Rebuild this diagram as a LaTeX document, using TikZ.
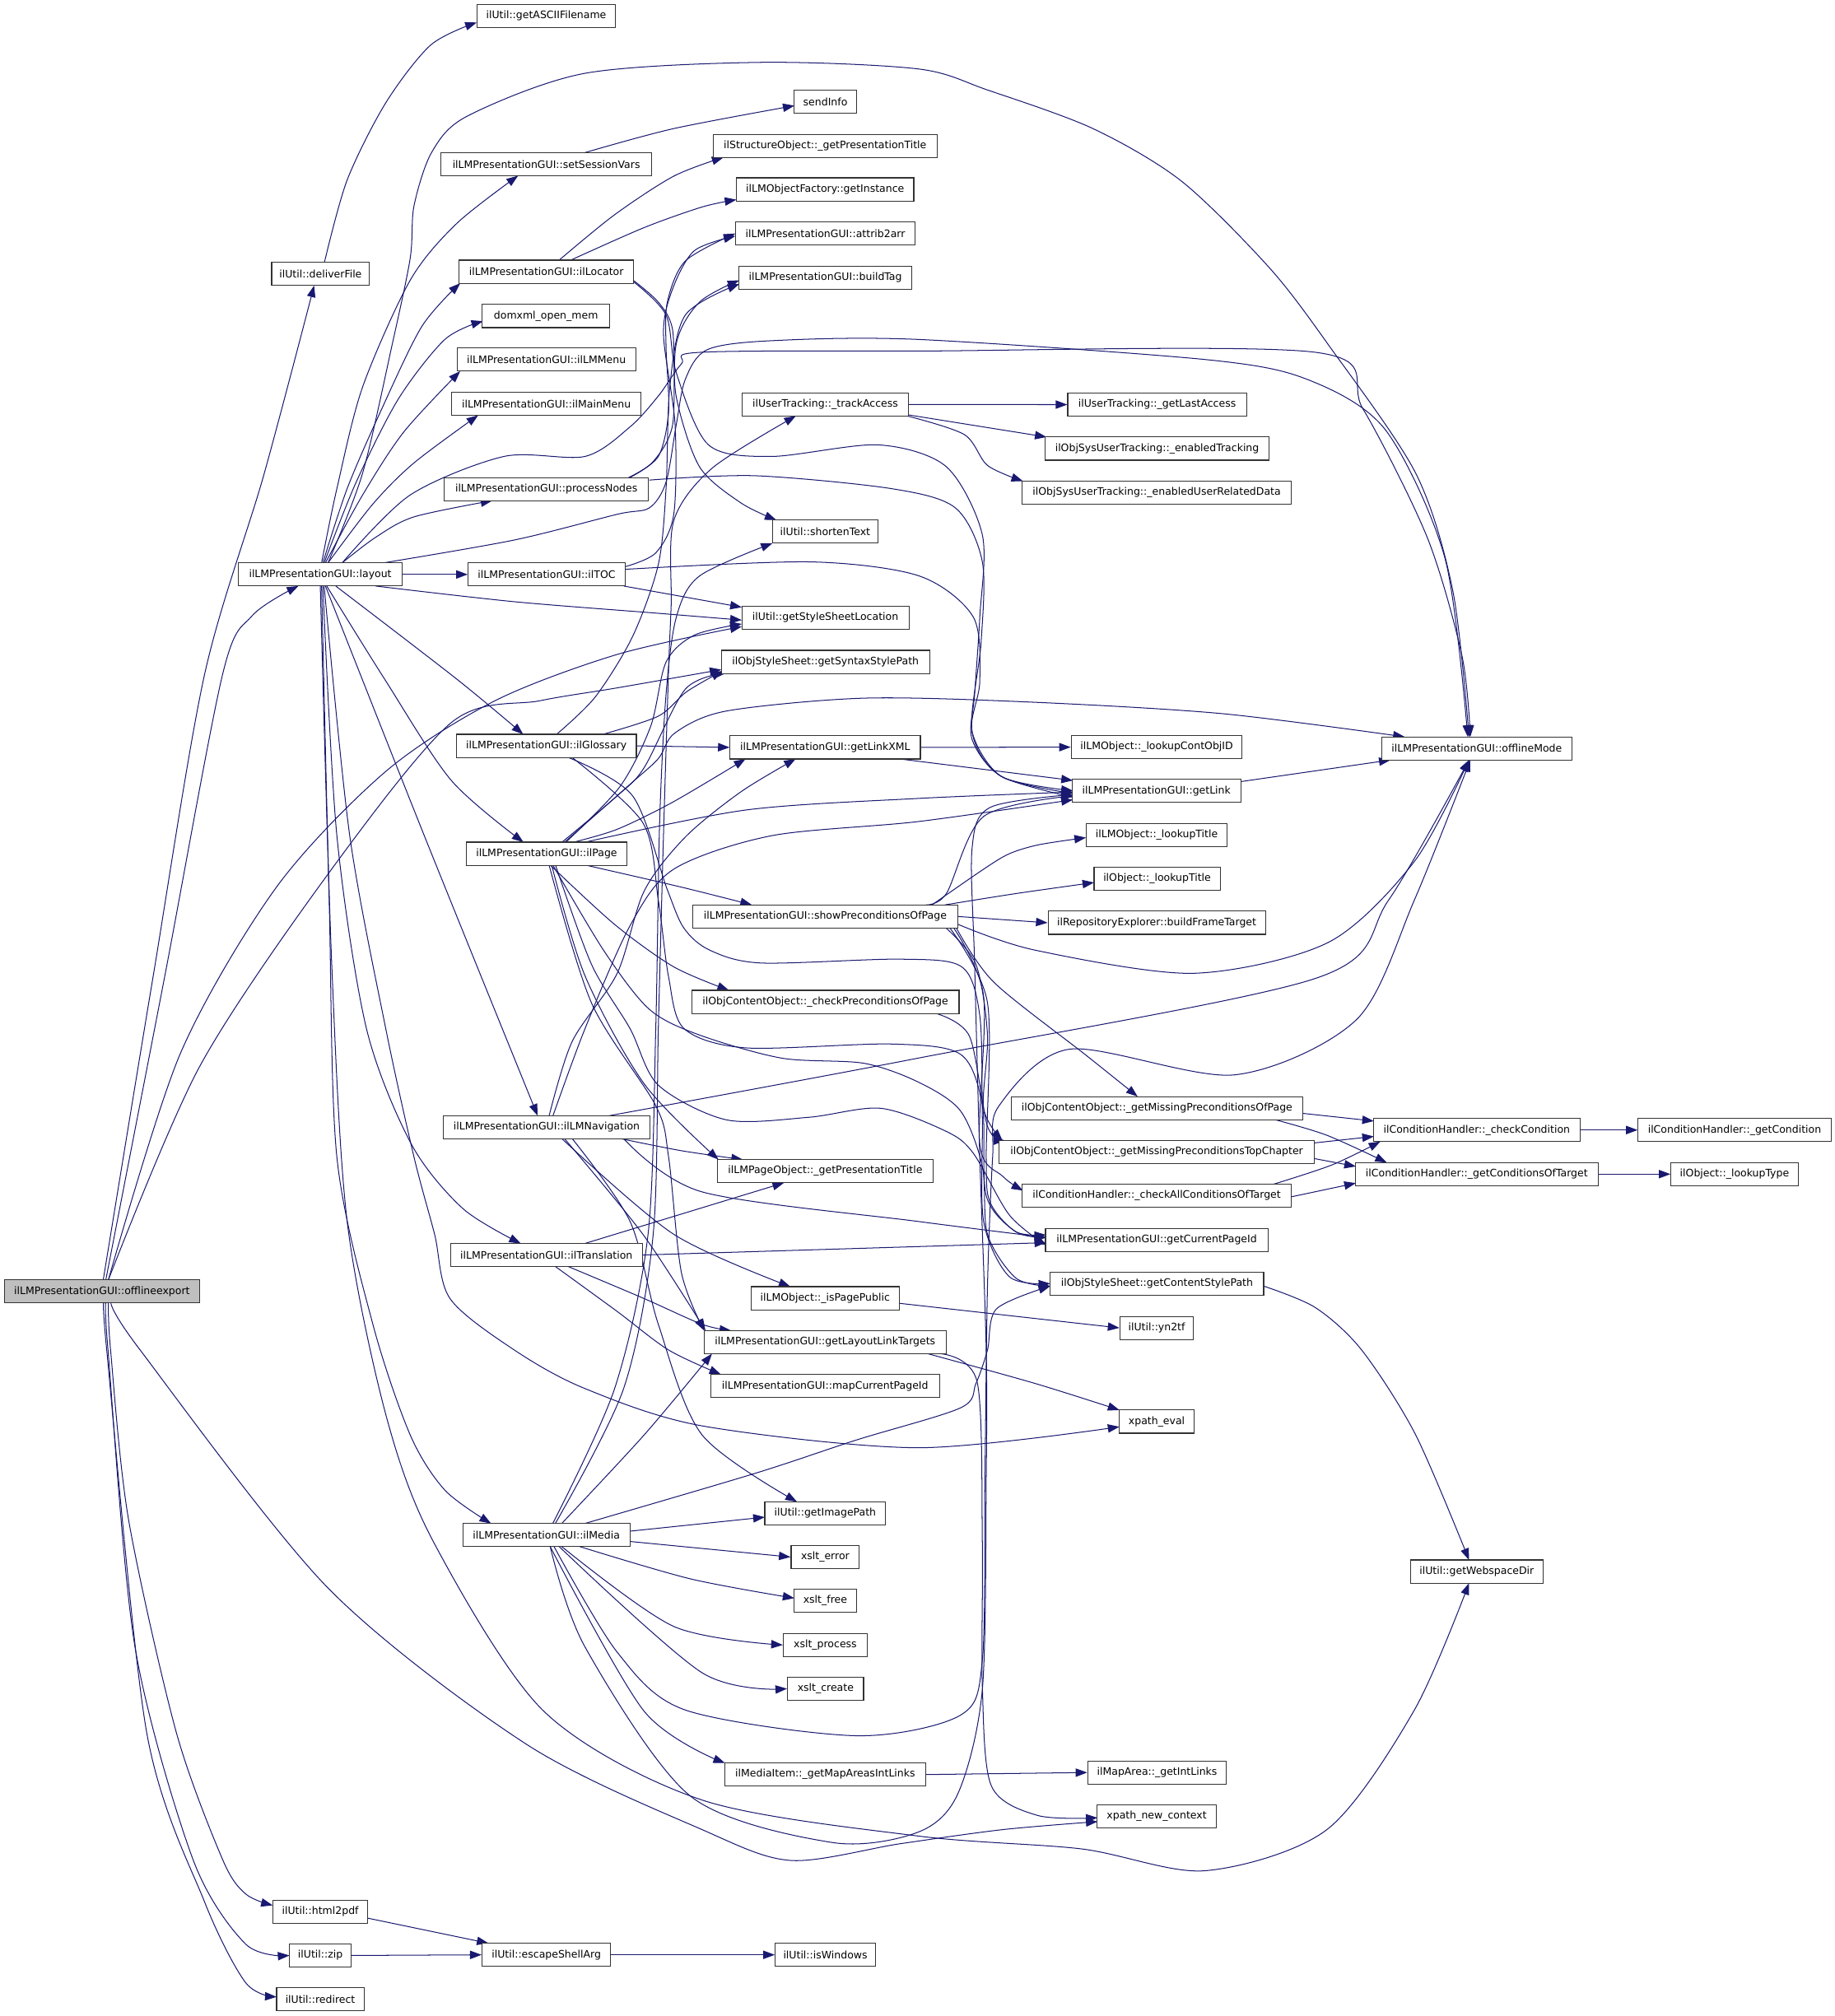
\documentclass[tikz,border=0pt]{standalone}
\usepackage{fontspec}
\setmainfont{DejaVu Sans}
\usetikzlibrary{arrows.meta,calc}
\definecolor{edgeblue}{HTML}{191970}
\pgfdeclarelayer{bg}
\pgfdeclarelayer{paper}
\pgfsetlayers{paper,bg,main}
\begin{document}
\begin{tikzpicture}[x=1pt,y=-1pt,
  box/.style={draw=black!80, line width=0.7pt, fill=white, minimum height=18pt, inner sep=0pt, font=\fontsize{8}{9.6}\selectfont},
  e/.style={draw=edgeblue, line width=0.65pt, line join=round, -{Triangle[length=9pt,width=6.5pt]}}]
\begin{pgfonlayer}{paper}
\fill[white] (0,0) rectangle (1427,1568);
\end{pgfonlayer}
\useasboundingbox (0,0) rectangle (1427,1568);
% nodes
\node[box,minimum width=152pt,fill=black!25] (O) at (79.3,1004.4) {ilLMPresentationGUI::offlineexport};
\node[box,minimum width=108pt] (gaf) at (424.8,12.5) {ilUtil::getASCIIFilename};
\node[box,minimum width=49pt] (send) at (641.9,79.2) {sendInfo};
\node[box,minimum width=164pt] (ssv) at (424.9,127.7) {ilLMPresentationGUI::setSessionVars};
\node[box,minimum width=174pt] (sopt) at (641.7,113.4) {ilStructureObject::\_getPresentationTitle};
\node[box,minimum width=138pt] (gi) at (641.7,147.3) {ilLMObjectFactory::getInstance};
\node[box,minimum width=140pt] (a2a) at (641.9,181.6) {ilLMPresentationGUI::attrib2arr};
\node[box,minimum width=134pt] (bt) at (641.9,216) {ilLMPresentationGUI::buildTag};
\node[box,minimum width=76pt] (df) at (249.3,213.1) {ilUtil::deliverFile};
\node[box,minimum width=136pt] (loc) at (424.9,211.3) {ilLMPresentationGUI::ilLocator};
\node[box,minimum width=99pt] (dom) at (424.6,245.8) {domxml\_open\_mem};
\node[box,minimum width=139pt] (lmm) at (424.9,279.7) {ilLMPresentationGUI::ilLMMenu};
\node[box,minimum width=147pt] (mm) at (424.9,314) {ilLMPresentationGUI::ilMainMenu};
\node[box,minimum width=129pt] (ta) at (641.9,314.6) {ilUserTracking::\_trackAccess};
\node[box,minimum width=159pt] (pn) at (424.9,380.4) {ilLMPresentationGUI::processNodes};
\node[box,minimum width=82pt] (st) at (641.8,413.5) {ilUtil::shortenText};
\node[box,minimum width=127pt] (lay) at (249.1,446.8) {ilLMPresentationGUI::layout};
\node[box,minimum width=122pt] (toc) at (425.1,446.8) {ilLMPresentationGUI::ilTOC};
\node[box,minimum width=130pt] (gssl) at (641.9,480.3) {ilUtil::getStyleSheetLocation};
\node[box,minimum width=162pt] (gsyn) at (642,514.8) {ilObjStyleSheet::getSyntaxStylePath};
\node[box,minimum width=139pt] (gla) at (899.9,314.7) {ilUserTracking::\_getLastAccess};
\node[box,minimum width=174pt] (et) at (899.9,348.9) {ilObjSysUserTracking::\_enabledTracking};
\node[box,minimum width=209pt] (eurd) at (899.6,383.2) {ilObjSysUserTracking::\_enabledUserRelatedData};
\node[box,minimum width=140pt] (glo) at (424.9,580.1) {ilLMPresentationGUI::ilGlossary};
\node[box,minimum width=148pt] (glx) at (641.8,581.3) {ilLMPresentationGUI::getLinkXML};
\node[box,minimum width=125pt] (pg) at (425.1,664) {ilLMPresentationGUI::ilPage};
\node[box,minimum width=206pt] (spp) at (641.8,712.8) {ilLMPresentationGUI::showPreconditionsOfPage};
\node[box,minimum width=208pt] (cpp) at (641.9,779.2) {ilObjContentObject::\_checkPreconditionsOfPage};
\node[box,minimum width=161pt] (nav) at (425.1,876.7) {ilLMPresentationGUI::ilLMNavigation};
\node[box,minimum width=168pt] (lpt) at (641.8,910.9) {ilLMPageObject::\_getPresentationTitle};
\node[box,minimum width=149pt] (tr) at (425,976.1) {ilLMPresentationGUI::ilTranslation};
\node[box,minimum width=115pt] (ipp) at (641.7,1009.7) {ilLMObject::\_isPagePublic};
\node[box,minimum width=188pt] (gllt) at (641.7,1043.9) {ilLMPresentationGUI::getLayoutLinkTargets};
\node[box,minimum width=178pt] (mcp) at (641.7,1078) {ilLMPresentationGUI::mapCurrentPageId};
\node[box,minimum width=133pt] (lcoid) at (899.6,581.1) {ilLMObject::\_lookupContObjID};
\node[box,minimum width=148pt] (om) at (1148.5,582.1) {ilLMPresentationGUI::offlineMode};
\node[box,minimum width=131pt] (gl) at (899.4,615) {ilLMPresentationGUI::getLink};
\node[box,minimum width=109pt] (lmlt) at (899.6,649.5) {ilLMObject::\_lookupTitle};
\node[box,minimum width=98pt] (olt) at (899.9,683.4) {ilObject::\_lookupTitle};
\node[box,minimum width=169pt] (bft) at (899.6,717.7) {ilRepositoryExplorer::buildFrameTarget};
\node[box,minimum width=227pt] (gmpp) at (899.8,861.9) {ilObjContentObject::\_getMissingPreconditionsOfPage};
\node[box,minimum width=161pt] (cc) at (1148.5,878.9) {ilConditionHandler::\_checkCondition};
\node[box,minimum width=150pt] (gc) at (1349,878.9) {ilConditionHandler::\_getCondition};
\node[box,minimum width=245pt] (gmtc) at (899.6,896) {ilObjContentObject::\_getMissingPreconditionsTopChapter};
\node[box,minimum width=189pt] (gcot) at (1148.5,913.2) {ilConditionHandler::\_getConditionsOfTarget};
\node[box,minimum width=99pt] (lty) at (1349,913.2) {ilObject::\_lookupType};
\node[box,minimum width=209pt] (cacot) at (899.6,930) {ilConditionHandler::\_checkAllConditionsOfTarget};
\node[box,minimum width=173pt] (gcpi) at (899.6,964.5) {ilLMPresentationGUI::getCurrentPageId};
\node[box,minimum width=166pt] (gcsp) at (899.8,998.3) {ilObjStyleSheet::getContentStylePath};
\node[box,minimum width=57pt] (yn) at (899.6,1032.8) {ilUtil::yn2tf};
\node[box,minimum width=94pt] (gip) at (641.8,1177) {ilUtil::getImagePath};
\node[box,minimum width=130pt] (med) at (424.9,1193.9) {ilLMPresentationGUI::ilMedia};
\node[box,minimum width=53pt] (xe) at (641.8,1211) {xslt\_error};
\node[box,minimum width=49pt] (xf) at (641.8,1245) {xslt\_free};
\node[box,minimum width=65pt] (xp) at (641.8,1279.4) {xslt\_process};
\node[box,minimum width=59pt] (xc) at (642.1,1313.4) {xslt\_create};
\node[box,minimum width=156pt] (gmai) at (641.8,1380.2) {ilMediaItem::\_getMapAreasIntLinks};
\node[box,minimum width=74pt] (h2p) at (249.1,1486.9) {ilUtil::html2pdf};
\node[box,minimum width=48pt] (zip) at (249.1,1520.9) {ilUtil::zip};
\node[box,minimum width=100pt] (esa) at (424.9,1520.4) {ilUtil::escapeShellArg};
\node[box,minimum width=78pt] (win) at (641.9,1520.4) {ilUtil::isWindows};
\node[box,minimum width=68pt] (red) at (249.1,1555.1) {ilUtil::redirect};
\node[box,minimum width=58pt] (xpe) at (899.6,1105.7) {xpath\_eval};
\node[box,minimum width=103pt] (gwd) at (1148.5,1222.3) {ilUtil::getWebspaceDir};
\node[box,minimum width=108pt] (mia) at (899.9,1378.6) {ilMapArea::\_getIntLinks};
\node[box,minimum width=93pt] (xnc) at (899.6,1412.8) {xpath\_new\_context};

\begin{pgfonlayer}{bg}
% offlineexport
\draw[e] plot[smooth] coordinates {($(O.center)+(1,-9)$) (119,760) (159,525) (205,370) ($(df.center)+(-5,9)$)};
\draw[e] plot[smooth] coordinates {($(O.center)+(3,-9)$) (128,760) (173,525) (196,479) ($(lay.center)+(-17,9)$)};
\draw[e] plot[smooth] coordinates {($(O.center)+(5,-9)$) (140,820) (215,690) (300,600) (385,545) (480,509) ($(gssl.center)+(-65,7)$)};
\draw[e] plot[smooth] coordinates {($(O.center)+(5,-9)$) (155,830) (255,680) (351,562) (420,545) (480,535) ($(gsyn.center)+(-81,6)$)};
\draw[e] plot[smooth] coordinates {($(O.center)+(5,9)$) (86,1050) (100,1182) (137,1347) (173,1446) (191,1473) ($(h2p.center)+(-37,-5)$)};
\draw[e] plot[smooth] coordinates {($(O.center)+(3,9)$) (84,1050) (105,1281) (150,1446) (191,1512) ($(zip.center)+(-24,0)$)};
\draw[e] plot[smooth] coordinates {($(O.center)+(2,9)$) (83,1050) (114,1347) (159,1479) (191,1542) ($(red.center)+(-34,-2)$)};
\draw[e] plot[smooth] coordinates {($(O.center)+(7,9)$) (109,1050) (255,1235) (410,1357) (546,1423) (615,1447) (700,1434) (780,1423) ($(xnc.center)+(-46,4)$)};
% deliverFile
\draw[e] plot[smooth] coordinates {($(df.center)+(3,-9)$) (270,140) (300,80) (335,35) ($(gaf.center)+(-54,5)$)};
% layout upwards
\draw[e] plot[smooth] coordinates {($(lay.center)+(1,-9)$) (262,380) (282,301) (319,218) (355,174) ($(ssv.center)+(-22,9)$)};
\draw[e] plot[smooth] coordinates {($(lay.center)+(2,-9)$) (270,380) (296,320) (328,254) ($(loc.center)+(-67,9)$)};
\draw[e] plot[smooth] coordinates {($(lay.center)+(3,-9)$) (277,375) (310,310) (346,264) ($(dom.center)+(-49,4)$)};
\draw[e] plot[smooth] coordinates {($(lay.center)+(4,-9)$) (282,385) (314,336) ($(lmm.center)+(-67,9)$)};
\draw[e] plot[smooth] coordinates {($(lay.center)+(6,-9)$) (290,392) (322,360) ($(mm.center)+(-53,9)$)};
\draw[e] plot[smooth] coordinates {($(lay.center)+(17,-9)$) (292,418) (322,402) ($(pn.center)+(-42,9)$)};
\draw[e] plot[smooth] coordinates {($(lay.center)+(6,-9)$) (282,368) (305,268) (319,201) (322,160) (336,118) (364,90) (455,57) (592,48.5) (714,53.6) (768,70) (850,100) (919,141) (987,208) (1033,268) (1101,368) (1130,460) ($(om.center)+(-6,-9)$)};
\draw[e] plot[smooth] coordinates {($(lay.center)+(17,-9)$) (319,385) (392,355) (455,355) (490,332) (512,308) (530,283) (545,274) (714,273) (1023,274) (1060,318) (1110,418) (1137,510) ($(om.center)+(-5,-9)$)};
\draw[e] plot[smooth] coordinates {($(lay.center)+(49,-9)$) (400,420) (480,400) (505,395) (518,375) (526,330) (533,295) (550,272) (600,265) (714,264) (941,280) (1019,296) (1078,335) (1124,435) ($(om.center)+(-7,-9)$)};
% layout sideways / down
\draw[e] (lay.east) -- (toc.west);
\draw[e] plot[smooth] coordinates {($(lay.center)+(43,9)$) (400,468) (512,477) ($(gssl.center)+(-65,2)$)};
\draw[e] plot[smooth] coordinates {($(lay.center)+(12,9)$) (355,528) ($(glo.center)+(-18,-9)$)};
\draw[e] plot[smooth] coordinates {($(lay.center)+(5,9)$) (299,528) (351,607) ($(pg.center)+(-18,-9)$)};
\draw[e] plot[smooth] coordinates {($(lay.center)+(4,9)$) (330,650) ($(nav.center)+(-7,-9)$)};
\draw[e] plot[smooth] coordinates {($(lay.center)+(2,9)$) (262,650) (285,800) (320,890) (360,940) ($(tr.center)+(-20,-9)$)};
\draw[e] plot[smooth] coordinates {($(lay.center)+(1,9)$) (256,700) (262,900) (290,1030) (319,1116) (346,1159) ($(med.center)+(-43,-9)$)};
\draw[e] plot[smooth] coordinates {($(lay.center)+(3,9)$) (272,650) (300,800) (322,900) (338,960) (350,1010) (400,1050) (455,1080) (546,1109) (714,1126) ($(xpe.center)+(-29,4)$)};
\draw[e] plot[smooth] coordinates {($(lay.center)+(0,9)$) (258,750) (270,950) (300,1100) (337,1199) (423,1331) (546,1400) (714,1428) (841,1438) (937,1455) (1032,1423) (1100,1330) ($(gwd.center)+(-6,9)$)};
% ilTOC
\draw[e] ($(toc.center)+(60,9)$) -- ($(gssl.center)+(-65,-8)$);
\draw[e] plot[smooth] coordinates {($(toc.center)+(61,-6)$) (510,430) (524,400) (525,330) (516,260) (523,225) (540,195) ($(a2a.center)+(-70,2)$)};
\draw[e] plot[smooth] coordinates {($(toc.center)+(61,-4)$) (630,437) (715,448) (757,480) (762,530) (756,569) (779,604) ($(gl.center)+(-65,2)$)};
% processNodes
\draw[e] plot[smooth] coordinates {($(pn.center)+(65,-9)$) (512,355) (520,320) (518,270) (519,235) (533,203) ($(a2a.center)+(-70,0)$)};
\draw[e] plot[smooth] coordinates {($(pn.center)+(64,-9)$) (508,359) (523,331) (526,267) (544,235) ($(bt.center)+(-67,2)$)};
\draw[e] plot[smooth] coordinates {($(pn.center)+(80,-7)$) (587,370) (693,380) (743,395) (764,437) (763,500) (756,569) (779,604) ($(gl.center)+(-65,0)$)};
% ilLocator
\draw[e] plot[smooth] coordinates {($(loc.center)+(10,-9)$) (478,167) (524,137) ($(sopt.center)+(-79,9)$)};
\draw[e] plot[smooth] coordinates {($(loc.center)+(19,-9)$) (501,177) (546,161) ($(gi.center)+(-69,8)$)};
\draw[e] plot[smooth] coordinates {($(loc.center)+(68,7)$) (512,235) (523,256) (526,309) (544,363) (576,391) ($(st.center)+(-38,-9)$)};
\draw[e] plot[smooth] coordinates {($(loc.center)+(68,8)$) (518,245) (526,290) (551,346) (600,355) (683,346) (736,363) (764,416) (762,480) (758,540) (756,575) (779,604) ($(gl.center)+(-65,5)$)};
% setSessionVars
\draw[e] plot[smooth] coordinates {($(ssv.center)+(30,-9)$) (524,100) ($(send.center)+(-24,3)$)};
% ilGlossary
\draw[e] (glo.east) -- (glx.west);
\draw[e] plot[smooth] coordinates {($(glo.center)+(44,-9)$) (512,557) (534,538) ($(gsyn.center)+(-80,7)$)};
\draw[e] plot[smooth] coordinates {($(glo.center)+(8,-9)$) (463,542) (492,495) (512,439) (518,380) (521,300) (533,245) ($(bt.center)+(-67,5)$)};
\draw[e] plot[smooth] coordinates {($(glo.center)+(17,9)$) (492,619) (519,692) (532,722) (552,739) (592,749) (700,746) (748,752) (762,790) (764,870) (765,950) (785,993) ($(gcsp.center)+(-83,0)$)};
\draw[e] plot[smooth] coordinates {($(glo.center)+(20,9)$) (500,640) (512,700) (520,760) (532,800) (580,815) (693,812) (747,820) (764,860) (767,930) (790,958) ($(gcpi.center)+(-86,-2)$)};
% ilPage
\draw[e] plot[smooth] coordinates {($(pg.center)+(12,-9)$) (480,619) (501,597) (533,536) ($(gsyn.center)+(-78,9)$)};
\draw[e] plot[smooth] coordinates {($(pg.center)+(15,-9)$) (482,612) (506,565) (518,515) (540,494) ($(gssl.center)+(-65,5)$)};
\draw[e] plot[smooth] coordinates {($(pg.center)+(21,-9)$) (480,645) (523,624) ($(glx.center)+(-62,9)$)};
\draw[e] plot[smooth] coordinates {($(pg.center)+(30,-9)$) (580,630) (714,621) ($(gl.center)+(-65,1)$)};
\draw[e] plot[smooth] coordinates {($(pg.center)+(14,-9)$) (490,610) (512,590) (525,570) (565,553) (672,543) (800,546) (950,555) ($(om.center)+(-56,-9)$)};
\draw[e] plot[smooth] coordinates {($(pg.center)+(31,9)$) (530,690) ($(spp.center)+(-57,-9)$)};
\draw[e] plot[smooth] coordinates {($(pg.center)+(3,9)$) (478,719) (524,752) ($(cpp.center)+(-75,-9)$)};
\draw[e] plot[smooth] coordinates {($(pg.center)+(4,9)$) (455,759) (501,843) ($(lpt.center)+(-83,-9)$)};
\draw[e] plot[smooth] coordinates {($(pg.center)+(2,9)$) (460,780) (510,860) (520,900) (530,990) ($(gllt.center)+(-94,-9)$)};
\draw[e] plot[smooth] coordinates {($(pg.center)+(5,9)$) (470,740) (505,785) (544,805) (608,823) (672,827) (715,842) (747,864) (764,907) (768,960) (790,994) ($(gcsp.center)+(-83,2)$)};
\draw[e] plot[smooth] coordinates {($(pg.center)+(7,9)$) (460,750) (490,800) (512,844) (565,871) (629,869) (685,862) (736,880) (757,897) (785,945) ($(gcpi.center)+(-86,4)$)};
% ilLMNavigation
\draw[e] plot[smooth] coordinates {($(nav.center)+(2,-9)$) (445,810) (480,757) (501,693) (533,651) (576,616) ($(glx.center)+(-23,9)$)};
\draw[e] plot[smooth] coordinates {($(nav.center)+(5,-9)$) (455,800) (490,720) (524,676) (600,650) (714,639) ($(gl.center)+(-65,7)$)};
\draw[e] plot[smooth] coordinates {($(nav.center)+(49,-9)$) (714,823) (1023,761) (1080,700) ($(om.center)+(-6,9)$)};
\draw[e] plot[smooth] coordinates {($(nav.center)+(58,9)$) (530,895) ($(lpt.center)+(-64,-9)$)};
\draw[e] plot[smooth] coordinates {($(nav.center)+(12,9)$) (524,960) ($(ipp.center)+(-27,-9)$)};
\draw[e] plot[smooth] coordinates {($(nav.center)+(60,9)$) (546,927) (714,950) ($(gcpi.center)+(-86,-2)$)};
\draw[e] plot[smooth] coordinates {($(nav.center)+(14,9)$) (500,960) ($(gllt.center)+(-93,-9)$)};
\draw[e] plot[smooth] coordinates {($(nav.center)+(20,9)$) (490,950) (512,1030) (546,1116) ($(gip.center)+(-22,-9)$)};
% ilTranslation
\draw[e] ($(tr.center)+(30,-9)$) -- ($(lpt.center)+(-32,9)$);
\draw[e] (tr.east) -- ($(gcpi.center)+(-86,2)$);
\draw[e] plot[smooth] coordinates {($(tr.center)+(17,9)$) (501,1010) (546,1030) ($(gllt.center)+(-73,-9)$)};
\draw[e] plot[smooth] coordinates {($(tr.center)+(7,9)$) (480,1020) (520,1050) ($(mcp.center)+(-81,-9)$)};
% ilMedia
\draw[e] ($(med.center)+(65,-3)$) -- ($(gip.center)+(-47,3)$);
\draw[e] ($(med.center)+(65,5)$) -- ($(xe.center)+(-27,0)$);
\draw[e] plot[smooth] coordinates {($(med.center)+(26,9)$) (537,1228) ($(xf.center)+(-24,-2)$)};
\draw[e] plot[smooth] coordinates {($(med.center)+(12,9)$) (524,1265) ($(xp.center)+(-33,0)$)};
\draw[e] plot[smooth] coordinates {($(med.center)+(10,9)$) (546,1301) ($(xc.center)+(-30,0)$)};
\draw[e] plot[smooth] coordinates {($(med.center)+(3,9)$) (501,1331) ($(gmai.center)+(-78,-9)$)};
\draw[e] plot[smooth] coordinates {($(med.center)+(12,-9)$) (501,1116) ($(gllt.center)+(-88,9)$)};
\draw[e] plot[smooth] coordinates {($(med.center)+(30,-9)$) (587,1146) (666,1120) (747,1095) (759,1076) (768,1050) (775,1018) ($(gcsp.center)+(-83,2)$)};
\draw[e] plot[smooth] coordinates {($(med.center)+(3,9)$) (455,1281) (537,1397) (647,1433) (714,1425) (745,1395) (764,1314) (767,1150) (767,1050) (762,900) (758,750) (756,660) (770,628) ($(gl.center)+(-65,3)$)};
\draw[e] plot[smooth] coordinates {($(med.center)+(6,9)$) (480,1285) (533,1330) (666,1350) (747,1334) (764,1291) (766,1150) (768,1000) (772,900) (777,860) (832,816) (960,836) (1055,793) (1100,700) ($(om.center)+(-5,9)$)};
\draw[e] plot[smooth] coordinates {($(med.center)+(7,-9)$) (485,1080) (508,960) (512,800) (516,650) (520,520) (522,470) (524,405) (554,364) ($(ta.center)+(-23,9)$)};
\draw[e] plot[smooth] coordinates {($(med.center)+(5,-9)$) (478,1080) (504,960) (510,800) (513,640) (518,540) (526,480) (544,448) ($(st.center)+(-41,9)$)};
% showPreconditionsOfPage
\draw[e] plot[smooth] coordinates {($(spp.center)+(78,-9)$) (736,695) (765,635) ($(gl.center)+(-65,4)$)};
\draw[e] plot[smooth] coordinates {($(spp.center)+(83,-9)$) (765,676) (785,664) (808,657) ($(lmlt.center)+(-55,2)$)};
\draw[e] plot[smooth] coordinates {($(spp.center)+(93,-9)$) (790,695) ($(olt.center)+(-49,3)$)};
\draw[e] ($(spp.center)+(103,0)$) -- (bft.west);
\draw[e] plot[smooth] coordinates {($(spp.center)+(103,6)$) (805,739) (928,757) (1033,733) (1100,670) ($(om.center)+(-6,9)$)};
\draw[e] plot[smooth] coordinates {($(spp.center)+(102,9)$) (773,764) (845,821) ($(gmpp.center)+(-15,-9)$)};
\draw[e] plot[smooth] coordinates {($(spp.center)+(94,9)$) (759,750) (768,805) (765,862) ($(gmtc.center)+(-120,-9)$)};
\draw[e] plot[smooth] coordinates {($(spp.center)+(100,9)$) (765,775) (762,890) (780,915) ($(cacot.center)+(-104,-4)$)};
\draw[e] plot[smooth] coordinates {($(spp.center)+(97,9)$) (768,780) (767,900) (770,935) (790,958) ($(gcpi.center)+(-86,-4)$)};
% checkPreconditions
\draw[e] plot[smooth] coordinates {($(cpp.center)+(86,9)$) (754,806) (768,876) ($(gmtc.center)+(-118,-9)$)};
% conditions
\draw[e] ($(gmpp.center)+(113,4)$) -- ($(cc.center)+(-80,-7)$);
\draw[e] plot[smooth] coordinates {($(gmpp.center)+(92,9)$) (1032,883) ($(gcot.center)+(-70,-9)$)};
\draw[e] ($(gmtc.center)+(122,-7)$) -- ($(cc.center)+(-80,5)$);
\draw[e] ($(gmtc.center)+(122,5)$) -- ($(gcot.center)+(-94,-6)$);
\draw[e] plot[smooth] coordinates {($(cacot.center)+(91,-9)$) (1036,906) ($(cc.center)+(-75,9)$)};
\draw[e] ($(cacot.center)+(104,1)$) -- ($(gcot.center)+(-94,7)$);
\draw[e] (cc.east) -- (gc.west);
\draw[e] (gcot.east) -- (lty.west);
% misc
\draw[e] (glx.east) -- (lcoid.west);
\draw[e] ($(glx.center)+(58,9)$) -- ($(gl.center)+(-65,-8)$);
\draw[e] ($(gl.center)+(65,-7)$) -- ($(om.center)+(-67,9)$);
\draw[e] plot[smooth] coordinates {($(gcsp.center)+(83,2)$) (1023,1017) (1059,1050) (1101,1116) ($(gwd.center)+(-6,-9)$)};
\draw[e] ($(ipp.center)+(58,4)$) -- ($(yn.center)+(-29,0)$);
\draw[e] (gmai.east) -- (mia.west);
\draw[e] plot[smooth] coordinates {($(gllt.center)+(80,9)$) (805,1076) ($(xpe.center)+(-29,-9)$)};
\draw[e] plot[smooth] coordinates {($(gllt.center)+(90,9)$) (760,1075) (764,1200) (764,1312) (771,1389) (807,1412) ($(xnc.center)+(-46,1)$)};
\draw[e] (ta.east) -- (gla.west);
\draw[e] ($(ta.center)+(64,8)$) -- ($(et.center)+(-86,-9)$);
\draw[e] plot[smooth] coordinates {($(ta.center)+(64,9)$) (750,338) (768,362) ($(eurd.center)+(-104,-9)$)};
\draw[e] ($(h2p.center)+(37,5)$) -- ($(esa.center)+(-45,-9)$);
\draw[e] (zip.east) -- (esa.west);
\draw[e] (esa.east) -- (win.west);
\end{pgfonlayer}
\end{tikzpicture}
\end{document}
